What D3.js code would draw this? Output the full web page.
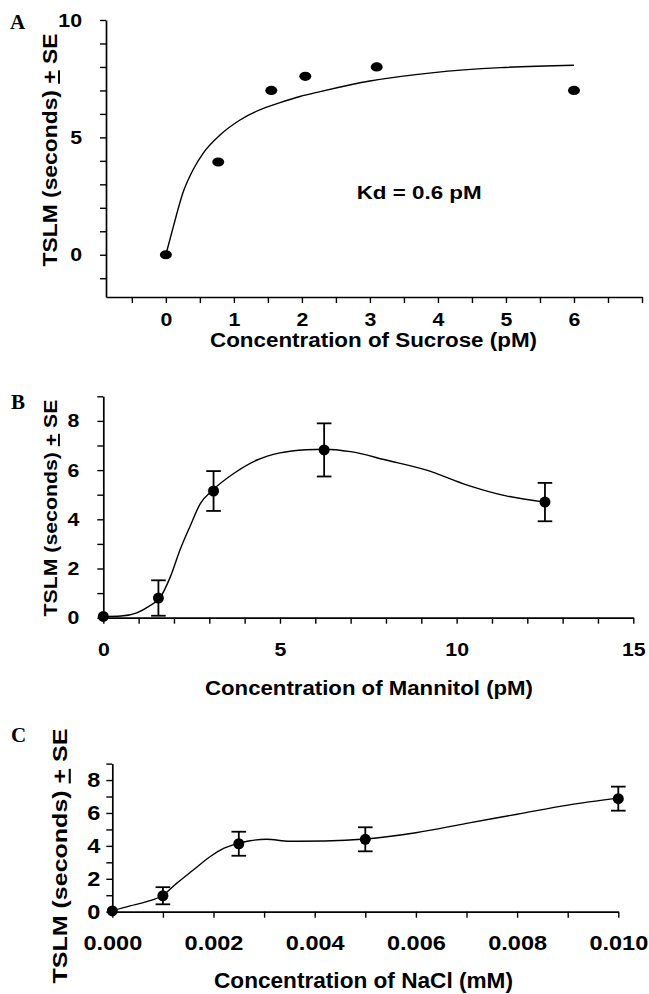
<!DOCTYPE html>
<html><head><meta charset="utf-8">
<script src="https://cdn.jsdelivr.net/npm/d3@7"></script>
<style>
html,body{margin:0;padding:0;background:#fff;}
svg{display:block;}
text{font-family:"Liberation Sans",Arial,sans-serif;font-weight:bold;fill:#000;}
</style></head><body>
<svg id="chart" width="649" height="994"></svg>
<script>
// ---------- DATA ----------
// Panel A: sucrose
const sucroseConc = [0, 0.77, 1.55, 2.05, 3.1, 6.0];
const sucroseTSLM = [0, 3.95, 7.0, 7.6, 8.0, 7.0];
const sucroseFitConc = [0, 0.11, 0.25, 0.4, 0.55, 0.8, 1.09, 1.38, 1.68, 1.97, 2.27, 3.0, 3.94, 4.92, 6.0];
const sucroseFitTSLM = [0, 1.2, 2.63, 3.62, 4.33, 5.11, 5.74, 6.17, 6.48, 6.74, 6.95, 7.40, 7.76, 7.97, 8.07];
const sucroseXTickLabels = [0, 1, 2, 3, 4, 5, 6];
const sucroseYTickLabels = [0, 5, 10];
const sucroseAnnotation = "Kd = 0.6 pM";

// Panel B: mannitol
const mannitolConc = [0, 1.56, 3.12, 6.25, 12.5];
const mannitolTSLM = [0.05, 0.8, 5.15, 6.82, 4.7];
const mannitolSE = [0, 0.72, 0.81, 1.08, 0.78];
const mannitolCurveConc = [0, 0.5, 0.95, 1.3, 1.6, 1.9, 2.17, 2.45, 2.75, 3.1, 3.7, 4.35, 5.0, 5.75, 6.25, 7.0, 8.0, 9.15, 10.3, 11.4, 12.5];
const mannitolCurveTSLM = [0.05, 0.07, 0.2, 0.47, 0.8, 1.67, 2.75, 3.7, 4.65, 5.19, 5.87, 6.41, 6.7, 6.83, 6.85, 6.75, 6.41, 6.0, 5.39, 4.95, 4.7];
const mannitolXTickLabels = [0, 5, 10, 15];
const mannitolYTickLabels = [0, 2, 4, 6, 8];

// Panel C: NaCl
const naclConc = [0, 0.001, 0.0025, 0.005, 0.010];
const naclTSLM = [0.05, 0.97, 4.13, 4.4, 6.87];
const naclSE = [0, 0.52, 0.73, 0.73, 0.73];
const naclCurveConc = [0, 0.00035, 0.00068, 0.001, 0.00127, 0.0016, 0.00193, 0.0022, 0.0025, 0.00272, 0.00305, 0.0035, 0.0042, 0.005, 0.006, 0.007, 0.008, 0.009, 0.010];
const naclCurveTSLM = [0.05, 0.35, 0.61, 1.0, 1.72, 2.53, 3.34, 3.85, 4.15, 4.31, 4.4, 4.28, 4.3, 4.42, 4.8, 5.37, 5.92, 6.48, 6.9];
const naclXTickLabels = [0, 0.002, 0.004, 0.006, 0.008, 0.010];
const naclYTickLabels = [0, 2, 4, 6, 8];

const yTitle = ["TSLM (seconds) ", "+", " SE"];

// ---------- DRAWING ----------
const svg = d3.select("#chart");
const has = (arr, v) => arr.some(a => Math.abs(a - v) < 1e-9);

function drawAxes(g, x, y, o) {
  const xa = g.append("g").attr("transform", `translate(0,${o.yRange[0]})`)
    .call(d3.axisBottom(x).tickValues(o.xMinor).tickSize(6).tickSizeOuter(0)
      .tickPadding(o.xPad).tickFormat(d => has(o.xLabels, d) ? o.xFmt(d) : ""));
  const ya = g.append("g").attr("transform", `translate(${o.xRange[0]},0)`)
    .call(d3.axisLeft(y).tickValues(o.yMinor).tickSize(6).tickSizeOuter(0)
      .tickPadding(o.yPad).tickFormat(d => has(o.yLabels, d) ? d3.format("d")(d) : ""));
  [xa, ya].forEach(a => {
    a.attr("font-family", null).attr("font-size", null);
    a.selectAll("text").style("font-size", o.tickFont + "px").each(function () {
      const t = d3.select(this);
      if (t.text() !== "") {
        const w = this.getComputedTextLength();
        t.attr("textLength", w * 1.12).attr("lengthAdjust", "spacingAndGlyphs");
      }
    });
    a.select(".domain").attr("stroke-width", 1.7);
    a.selectAll(".tick line").attr("stroke-width", 1.4);
  });
}

function xTitle(g, cx, baseline, txt, size, len) {
  g.append("text").attr("x", cx).attr("y", baseline).attr("text-anchor", "middle")
    .style("font-size", size + "px").attr("textLength", len).attr("lengthAdjust", "spacingAndGlyphs")
    .text(txt);
}
function yTitleText(g, bx, cy, size, len) {
  const t = g.append("text").attr("transform", `translate(${bx},${cy}) rotate(-90)`)
    .attr("text-anchor", "middle").style("font-size", size + "px")
    .attr("textLength", len).attr("lengthAdjust", "spacingAndGlyphs");
  t.append("tspan").text(yTitle[0]);
  t.append("tspan").style("text-decoration", "underline").text(yTitle[1]);
  t.append("tspan").text(yTitle[2]);
}
function panelLetter(g, x, y, L) {
  g.append("text").attr("x", x).attr("y", y)
    .style("font-family", '"Liberation Serif","Times New Roman",serif')
    .style("font-size", "21px").text(L);
}

// ----- Panel A -----
{
  const g = svg.append("g");
  const xr = [106, 642], yr = [297, 20];
  const x = d3.scaleLinear().domain([-0.88, 7]).range(xr);
  const y = d3.scaleLinear().domain([-1.8, 10]).range(yr);
  drawAxes(g, x, y, {
    xRange: xr, yRange: yr, xMinor: d3.range(-0.5, 7.01, 0.5), yMinor: d3.range(-1, 10.01, 1),
    xLabels: sucroseXTickLabels, yLabels: sucroseYTickLabels, xFmt: d3.format("d"),
    xPad: 10, yPad: 18, tickFont: 19
  });
  const line = d3.line().x(d => x(d[0])).y(d => y(d[1])).curve(d3.curveMonotoneX);
  g.append("path").datum(d3.zip(sucroseFitConc, sucroseFitTSLM)).attr("d", line)
    .attr("fill", "none").attr("stroke", "#000").attr("stroke-width", 1.4);
  g.selectAll("ellipse.pt").data(d3.zip(sucroseConc, sucroseTSLM)).join("ellipse")
    .attr("cx", d => x(d[0])).attr("cy", d => y(d[1])).attr("rx", 6).attr("ry", 4.6).attr("fill", "#000");
  g.append("text").attr("x", 356.7).attr("y", 199).style("font-size", "19px")
    .attr("textLength", 125).attr("lengthAdjust", "spacingAndGlyphs").text(sucroseAnnotation);
  xTitle(g, 373.5, 347, "Concentration of Sucrose (pM)", 20, 327);
  yTitleText(g, 57, 150, 20, 233);
  panelLetter(g, 10, 29, "A");
}

function errPanel(o) {
  const g = svg.append("g");
  const x = d3.scaleLinear().domain(o.xDom).range(o.xRange);
  const y = d3.scaleLinear().domain(o.yDom).range(o.yRange);
  drawAxes(g, x, y, o);
  const line = d3.line().x(d => x(d[0])).y(d => y(d[1])).curve(d3.curveMonotoneX);
  g.append("path").datum(d3.zip(o.cx, o.cy)).attr("d", line)
    .attr("fill", "none").attr("stroke", "#000").attr("stroke-width", 1.4);
  const pts = d3.zip(o.px, o.py, o.se).filter(d => d[2] > 0);
  const eb = g.append("g").attr("stroke", "#000").attr("stroke-width", 1.8);
  eb.selectAll("line.v").data(pts).join("line")
    .attr("x1", d => x(d[0])).attr("x2", d => x(d[0]))
    .attr("y1", d => y(d[1] + d[2])).attr("y2", d => y(d[1] - d[2]));
  eb.selectAll("line.t").data(pts).join("line")
    .attr("x1", d => x(d[0]) - 7.3).attr("x2", d => x(d[0]) + 7.3)
    .attr("y1", d => y(d[1] + d[2])).attr("y2", d => y(d[1] + d[2]));
  eb.selectAll("line.b").data(pts).join("line")
    .attr("x1", d => x(d[0]) - 7.3).attr("x2", d => x(d[0]) + 7.3)
    .attr("y1", d => y(d[1] - d[2])).attr("y2", d => y(d[1] - d[2]));
  g.selectAll("circle").data(d3.zip(o.px, o.py)).join("circle")
    .attr("cx", d => x(d[0])).attr("cy", d => y(d[1])).attr("r", 5.5).attr("fill", "#000");
  xTitle(g, o.xt[0], o.xt[1], o.xt[2], o.xt[3], o.xt[4]);
  yTitleText(g, o.yt[0], o.yt[1], o.yt[2], o.yt[3]);
  panelLetter(g, o.letter[0], o.letter[1], o.letter[2]);
}

// ----- Panel B -----
errPanel({
  xDom: [0, 15], yDom: [0, 9], xRange: [103.3, 633.3], yRange: [617.7, 396.3],
  xMinor: d3.range(0, 15.01, 1), yMinor: d3.range(0, 9.01, 1),
  xLabels: mannitolXTickLabels, yLabels: mannitolYTickLabels, xFmt: d3.format("d"),
  xPad: 19, yPad: 18, tickFont: 19,
  px: mannitolConc, py: mannitolTSLM, se: mannitolSE, cx: mannitolCurveConc, cy: mannitolCurveTSLM,
  xt: [369, 695, "Concentration of Mannitol (pM)", 21, 328],
  yt: [57, 508, 19, 217],
  letter: [11, 409, "B"]
});

// ----- Panel C -----
errPanel({
  xDom: [0, 0.010], yDom: [0, 9], xRange: [112.3, 618.3], yRange: [911.7, 763.6],
  xMinor: d3.range(0, 11).map(i => i / 1000), yMinor: d3.range(0, 9.01, 1),
  xLabels: naclXTickLabels, yLabels: naclYTickLabels, xFmt: d3.format(".3f"),
  xPad: 17, yPad: 6, tickFont: 21,
  px: naclConc, py: naclTSLM, se: naclSE, cx: naclCurveConc, cy: naclCurveTSLM,
  xt: [363.5, 988, "Concentration of NaCl (mM)", 21.5, 299],
  yt: [66.7, 856, 21, 255],
  letter: [11, 742, "C"]
});
</script>
</body></html>
